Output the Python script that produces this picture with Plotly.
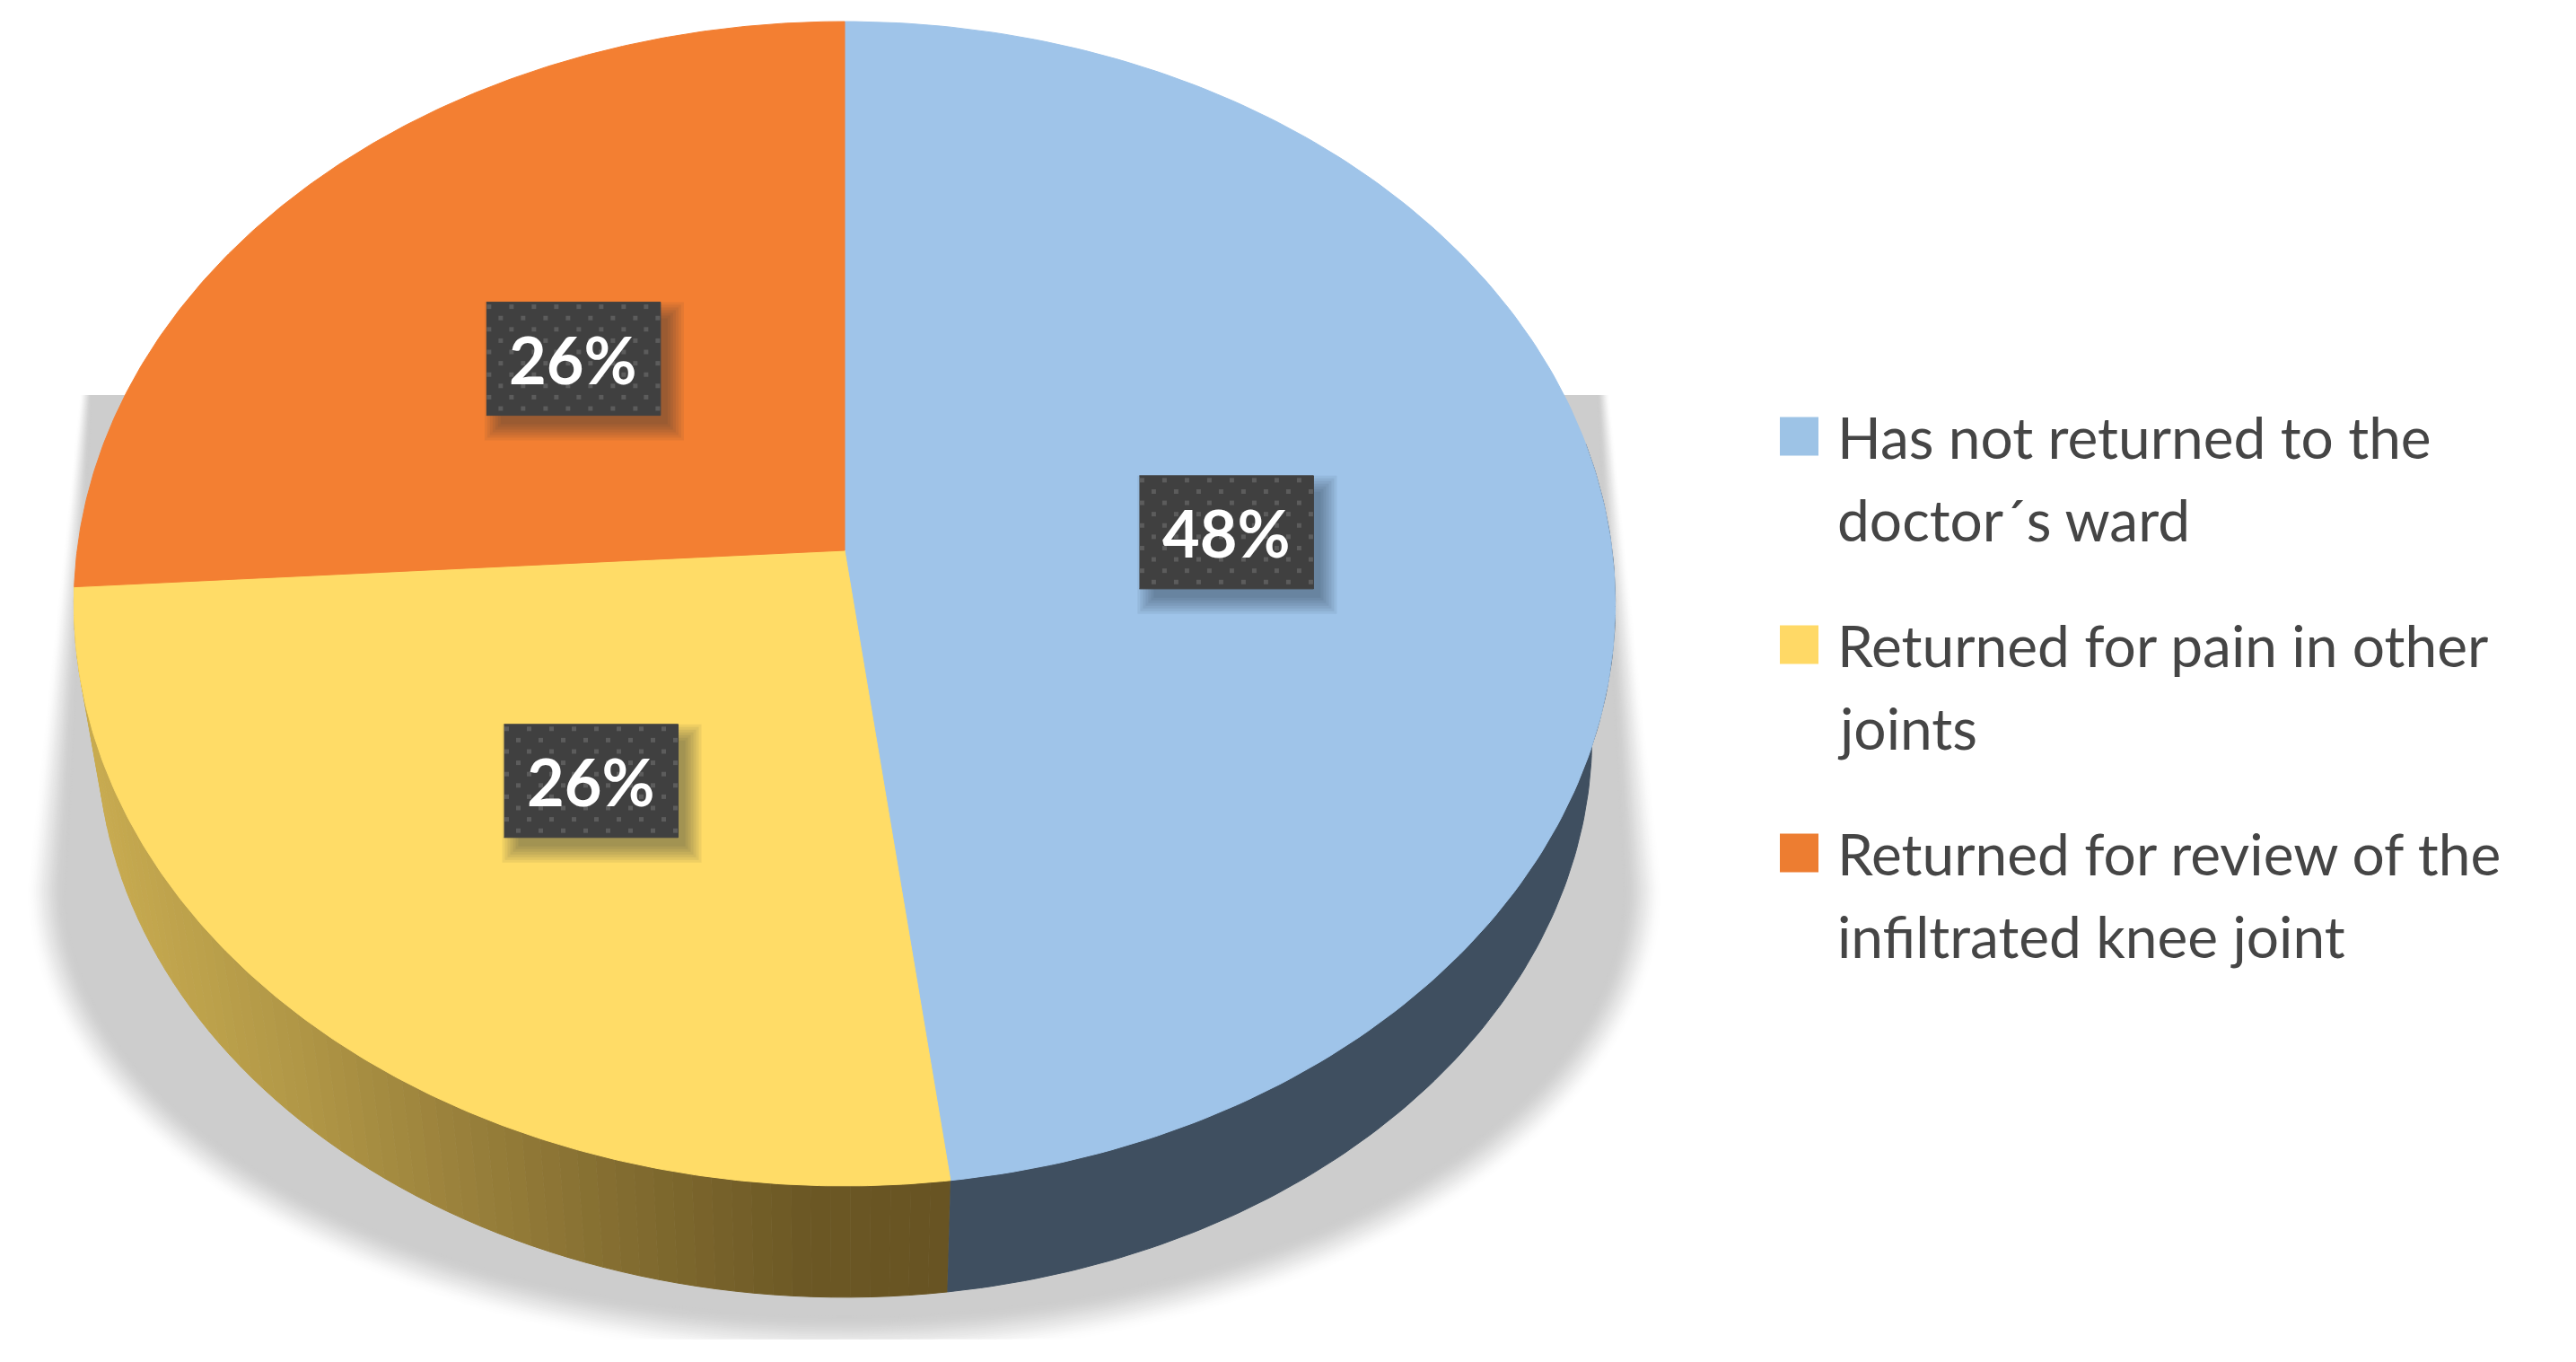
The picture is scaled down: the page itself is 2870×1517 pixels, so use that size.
import numpy as np
import plotly.graph_objects as go

##### chart data
categories = ["Has not returned to the doctor´s ward",
              "Returned for pain in other joints",
              "Returned for review of the infiltrated knee joint"]
legend_lines = [["Has not returned to the", "doctor´s ward"],
                ["Returned for pain in other", "joints"],
                ["Returned for review of the", "infiltrated knee joint"]]
values = [48, 26, 26]
top_colors = ["#9FC4E9", "#FFDC67", "#F37F32"]
swatch_colors = ["#9DC3E6", "#FFD966", "#ED7D31"]

W, H = 2870, 1517

##### pie geometry in page pixels
CX, CY = 941, 613
A, B, K = 855, 643, 0.0917
TOP_A, TOP_B, TOP_CY = 859, 648, 672
BOT_A, BOT_B, BOT_CY = 833, 625, 819
CLIP_Y = 1491


def project(frac, r=1.0):
    # slice fraction (clockwise from 12 o'clock) to the tilted top face
    t = 2 * np.pi * np.asarray(frac, dtype=float)
    u, v = r * np.sin(t), r * np.cos(t)
    w = 1 + K * v
    return CX + A * u / w, CY - B * v / w


def project_bottom(frac):
    x, y = project(frac)
    return CX + (x - CX) * BOT_A / TOP_A, BOT_CY + (y - TOP_CY) * BOT_B / TOP_B


def poly(fig, x, y, color):
    fig.add_trace(go.Scatter(x=x, y=y, mode='lines', fill='toself', fillcolor=color,
                             line=dict(color=color, width=1), hoverinfo='skip', showlegend=False))


def mix(c1, c2, t):
    c = [round(a + (b - a) * t) for a, b in zip(c1, c2)]
    return 'rgb(%d,%d,%d)' % tuple(c)


fig = go.Figure()

##### soft ground shadow, outer layers first
n_layers = 26
for i in range(n_layers):
    t = 1 - i / (n_layers - 1)
    # smooth fade from the core grey to white
    fade = t * t * (3 - 2 * t)
    color = mix((205, 205, 205), (255, 255, 255), fade)
    a_s = 868 + 45 * t
    b_s = 478 + 50 * t
    c_s = 988
    top_half = 838 + 14 * t
    phi = np.linspace(np.pi, 0, 160)
    ex = CX + a_s * np.cos(phi)
    ey = np.minimum(c_s + b_s * np.sin(phi), CLIP_Y)
    sx = np.concatenate([[CX - top_half], ex, [CX + top_half]])
    sy = np.concatenate([[440], ey, [440]])
    poly(fig, sx, sy, color)

##### side wall
bounds = np.cumsum([0] + values) / sum(values)

# blue wall is one flat colour
f = np.linspace(0.22, bounds[1], 120)
tx, ty = project(f)
bx, by = project_bottom(f)
poly(fig, np.concatenate([tx, bx[::-1]]), np.concatenate([ty, by[::-1]]), "#3F4F60")

# yellow wall runs light to dark from left to right
stop_x = [100, 300, 500, 700, 900, 1052]
stop_r = [200, 180, 155, 130, 108, 104]
stop_g = [171, 154, 130, 108, 88, 84]
stop_b = [80, 72, 60, 48, 37, 35]
edges = np.linspace(bounds[1], bounds[2], 70)
for f0, f1 in zip(edges[:-1], edges[1:]):
    tx, ty = project([f0, f1])
    bx, by = project_bottom([f0, f1])
    mid = (tx[0] + tx[1]) / 2
    col = 'rgb(%d,%d,%d)' % (np.interp(mid, stop_x, stop_r),
                             np.interp(mid, stop_x, stop_g),
                             np.interp(mid, stop_x, stop_b))
    poly(fig, [tx[0], tx[1], bx[1], bx[0]], [ty[0], ty[1], by[1], by[0]], col)

##### top face slices
for i, val in enumerate(values):
    f = np.linspace(bounds[i], bounds[i + 1], 200)
    x, y = project(f)
    poly(fig, np.concatenate([[CX], x, [CX]]), np.concatenate([[CY], y, [CY]]), top_colors[i])

##### data labels
BOX_W, BOX_H = 194, 126
annotations = []
for i, val in enumerate(values):
    lx, ly = project((bounds[i] + bounds[i + 1]) / 2, r=0.5)
    lx, ly = float(lx), float(ly)
    # blurred drop shadow
    for s in range(7):
        g = 14 - 3 * s
        fig.add_trace(go.Scatter(
            x=[lx - BOX_W / 2 + 12 - g, lx + BOX_W / 2 + 12 + g, lx + BOX_W / 2 + 12 + g, lx - BOX_W / 2 + 12 - g],
            y=[ly - BOX_H / 2 + 14 - g, ly - BOX_H / 2 + 14 - g, ly + BOX_H / 2 + 14 + g, ly + BOX_H / 2 + 14 + g],
            mode='lines', fill='toself', fillcolor='rgba(30,40,50,0.07)', line=dict(width=0),
            hoverinfo='skip', showlegend=False))
    poly(fig, [lx - BOX_W / 2, lx + BOX_W / 2, lx + BOX_W / 2, lx - BOX_W / 2],
         [ly - BOX_H / 2, ly - BOX_H / 2, ly + BOX_H / 2, ly + BOX_H / 2], "#404040")
    # dotted box texture
    dx, dy = [], []
    for row in range(10):
        py = ly - BOX_H / 2 + 5 + row * 12.6
        off = 3 if row % 2 == 0 else 16
        for col in range(8):
            px_ = lx - BOX_W / 2 + off + col * 25
            if px_ < lx + BOX_W / 2 - 2:
                dx.append(px_)
                dy.append(py)
    fig.add_trace(go.Scatter(x=dx, y=dy, mode='markers', hoverinfo='skip', showlegend=False,
                             marker=dict(symbol='square', size=5, color='#5C5C5C')))
    annotations.append(dict(x=lx, y=ly, text='<b>%d%%</b>' % val, showarrow=False,
                            font=dict(family='Lato', size=72, color='white'),
                            xanchor='center', yanchor='middle'))

##### legend
swatch_y = [486, 718, 950]
fig.add_trace(go.Scatter(x=[2004.5] * 3, y=swatch_y, mode='markers', hoverinfo='skip', showlegend=False,
                         marker=dict(symbol='square', size=43, color=swatch_colors)))
for i, lines in enumerate(legend_lines):
    for j, line in enumerate(lines):
        annotations.append(dict(x=2045, y=swatch_y[i] + j * 92, text=line, showarrow=False,
                                font=dict(family='Lato', size=64, color='#454545'),
                                xanchor='left', yanchor='middle'))

fig.update_layout(
    width=W, height=H,
    autosize=False,
    margin=dict(l=0, r=0, t=0, b=0),
    paper_bgcolor='white',
    plot_bgcolor='white',
    showlegend=False,
    annotations=annotations,
    xaxis=dict(range=[0, W], visible=False, fixedrange=True),
    yaxis=dict(range=[H, 0], visible=False, fixedrange=True),
)

fig.write_html("out.html", post_script="document.body.style.margin='0';",
               config=dict(displayModeBar=False))
